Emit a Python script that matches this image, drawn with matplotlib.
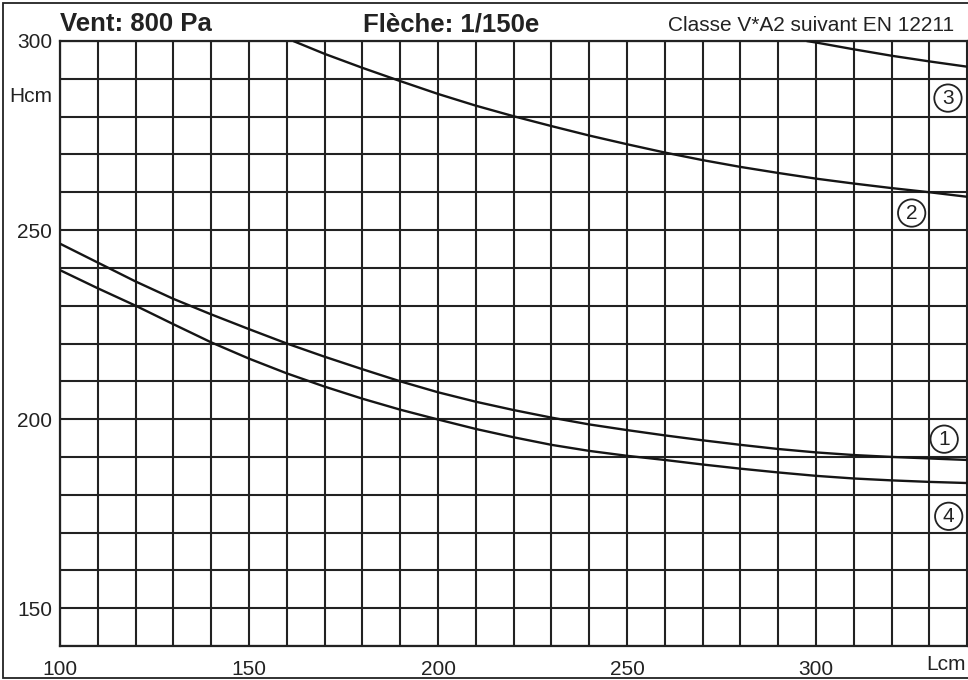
import matplotlib
matplotlib.use("Agg")
import matplotlib.pyplot as plt
from matplotlib.ticker import MultipleLocator, FixedLocator
from matplotlib.patches import Rectangle

plt.rcParams['font.family'] = ['Liberation Sans', 'DejaVu Sans']

# ---- data ----
x1 = [100, 110, 120, 130, 140, 150, 160, 170, 180, 190, 200, 210, 220, 230, 240, 250,
      260, 270, 280, 290, 300, 310, 320, 330, 340]
y1 = [246.4, 241.4, 236.4, 231.8, 227.7, 223.8, 220.0, 216.5, 213.2, 210.0, 207.1, 204.6,
      202.4, 200.4, 198.6, 197.1, 195.7, 194.4, 193.2, 192.1, 191.2, 190.5, 190.0, 189.6, 189.2]

x4 = x1
y4 = [239.4, 234.6, 230.0, 225.1, 220.3, 216.0, 212.1, 208.6, 205.4, 202.5, 199.9, 197.4,
      195.2, 193.2, 191.6, 190.3, 189.2, 188.0, 186.9, 185.9, 185.0, 184.3, 183.8, 183.4, 183.1]

x2 = [161.7, 170, 180, 190, 200, 210, 220, 230, 240, 250, 260, 270, 280, 290, 300, 310,
      320, 330, 340]
y2 = [300.0, 296.6, 292.9, 289.4, 286.0, 282.9, 280.1, 277.5, 275.0, 272.7, 270.5, 268.5,
      266.7, 265.1, 263.6, 262.3, 261.1, 260.0, 258.8]

x3 = [297.5, 300, 310, 320, 330, 340]
y3 = [300.0, 299.6, 297.8, 296.1, 294.6, 293.2]

curve_labels = ['1', '2', '3', '4']
label_x = [333.9, 325.3, 334.9, 335.1]
label_y = [194.7, 254.5, 284.9, 174.3]

x_ticks = [100, 150, 200, 250, 300]
y_ticks = [150, 200, 250, 300]

title_left = "Vent: 800 Pa"
title_mid = "Flèche: 1/150e"
title_right = "Classe V*A2 suivant EN 12211"
x_unit = "Lcm"
y_unit = "Hcm"

# ---- figure ----
W, H = 968, 680
fig = plt.figure(figsize=(W / 100, H / 100), dpi=100)
fig.patch.set_facecolor('white')

# outer frame
fig.add_artist(Rectangle((3 / W, 2 / H), (W - 2) / W, (H - 5) / H, transform=fig.transFigure,
                         fill=False, edgecolor='#222222', linewidth=1.3))

ax = fig.add_axes([60 / W, (H - 646) / H, (968 - 60) / W, (646 - 41) / H])
ax.set_xlim(100, 340.2)
ax.set_ylim(140, 300)

gc = '#222222'
fs = 15
ax.xaxis.set_major_locator(FixedLocator(x_ticks))
ax.yaxis.set_major_locator(FixedLocator(y_ticks))
ax.xaxis.set_minor_locator(MultipleLocator(10))
ax.yaxis.set_minor_locator(MultipleLocator(10))
ax.grid(True, which='both', color=gc, linewidth=1.5)
ax.set_axisbelow(True)
ax.tick_params(which='both', length=0, labelsize=fs, colors='#222222')
ax.tick_params(axis='x', pad=10)
ax.tick_params(axis='y', pad=5.5)
for s in ax.spines.values():
    s.set_color(gc)
    s.set_linewidth(1.6)

lc = '#151515'
for xs, ys in [(x1, y1), (x4, y4), (x2, y2), (x3, y3)]:
    ax.plot(xs, ys, color=lc, linewidth=1.7, solid_capstyle='butt', clip_on=True, zorder=3)

for lab, lx, ly in zip(curve_labels, label_x, label_y):
    ax.text(lx, ly, lab, ha='center', va='center', fontsize=fs, color='#222222', zorder=5,
            bbox=dict(boxstyle='circle,pad=0.2', facecolor='white', edgecolor='#222222',
                      linewidth=1.3))

# axis unit labels
ax.text(100 - 8 / 3.78, 285.3, y_unit, ha='right', va='center', fontsize=fs,
        color='#222222', clip_on=False)
ax.text(334.4, 140 - 18 / 3.78, x_unit, ha='center', va='center', fontsize=fs,
        color='#222222', clip_on=False)

# titles
fig.text(60 / W, 1 - 31 / H, title_left, ha='left', va='baseline', fontsize=18.5,
         fontweight='bold', color='#222222')
fig.text(451 / W, 1 - 31 / H, title_mid, ha='center', va='baseline', fontsize=18.5,
         fontweight='bold', color='#222222')
fig.text(954 / W, 1 - 31 / H, title_right, ha='right', va='baseline', fontsize=15,
         color='#222222')

fig.savefig('out.png', dpi=100, facecolor='white')
